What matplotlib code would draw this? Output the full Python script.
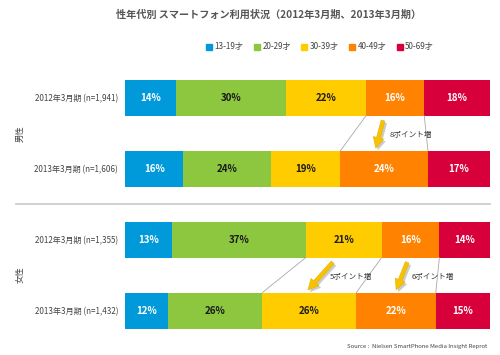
import matplotlib
matplotlib.use("Agg")
import matplotlib.pyplot as plt
import matplotlib.patheffects as pe
import numpy as np

plt.rcParams['font.family'] = ['Noto Sans CJK JP', 'DejaVu Sans']

# data
age_groups = ["13-19才", "20-29才", "30-39才", "40-49才", "50-69才"]
row_labels = ["2012年3月期 (n=1,941)", "2013年3月期 (n=1,606)",
              "2012年3月期 (n=1,355)", "2013年3月期 (n=1,432)"]
male_2012 = [14, 30, 22, 16, 18]
male_2013 = [16, 24, 19, 24, 17]
female_2012 = [13, 37, 21, 16, 14]
female_2013 = [12, 26, 26, 22, 15]
rows = [male_2012, male_2013, female_2012, female_2013]
genders = ["男性", "女性"]

colors = ["#0099DA", "#8DC63F", "#FFCC00", "#FF8300", "#D7003A"]
text_colors = ["white", "#1a1a1a", "#1a1a1a", "white", "white"]

fig = plt.figure(figsize=(5, 3.55), dpi=100)
ax = fig.add_axes([0.25, 0.0254, 0.73, 0.7986])

bar_h = 0.507
lefts_all = []
for i, vals in enumerate(rows):
    vals = np.array(vals, dtype=float)
    widths = vals / vals.sum() * 100
    lefts = np.concatenate([[0], np.cumsum(widths)[:-1]])
    lefts_all.append(np.concatenate([lefts, [100]]))
    for j in range(len(vals)):
        ax.barh(i, widths[j], left=lefts[j], height=bar_h, color=colors[j],
                edgecolor="none")
        ax.text(lefts[j] + widths[j] / 2, i, f"{int(vals[j])}%", ha="center",
                va="center", fontsize=7, fontweight="bold", color=text_colors[j])

# connector lines between years
for (r, bounds) in [(0, [3, 4]), (2, [2, 3, 4])]:
    for b in bounds:
        ax.plot([lefts_all[r][b], lefts_all[r + 1][b]],
                [r + bar_h / 2, r + 1 - bar_h / 2],
                color="#A8A8A8", lw=0.6, zorder=1)

# arrows with notes
notes = [("8ポイント増", (70.7, 0.32), (68.7, 0.71), (72.5, 0.52)),
         ("5ポイント増", (56.9, 2.32), (50.1, 2.71), (56.0, 2.52)),
         ("6ポイント増", (77.3, 2.32), (74.3, 2.71), (78.5, 2.52))]
for txt, start, end, tpos in notes:
    ax.annotate("", xy=end, xytext=start,
                arrowprops=dict(arrowstyle="simple,head_length=0.55,head_width=0.55,tail_width=0.2",
                                mutation_scale=14, shrinkA=0, shrinkB=0,
                                fc="#F7C300", ec="#E8B000", lw=0.4,
                                path_effects=[pe.withSimplePatchShadow(offset=(1.5, -1.5),
                                                                       shadow_rgbFace="#999999",
                                                                       alpha=0.5)]))
    ax.text(tpos[0], tpos[1], txt, fontsize=5.5, color="#333333",
            ha="left", va="center")

# separator between male and female
ax.axhline(1.5, xmin=-0.30, xmax=1.0, color="#C8C8C8", lw=1.2, clip_on=False)

ax.set_xlim(0, 100)
ax.set_ylim(3.5, -0.5)
ax.set_yticks(range(len(rows)))
ax.set_yticklabels(row_labels, fontsize=5.8, color="#444444")
ax.tick_params(axis="y", length=0, pad=5)
ax.set_xticks([])
for s in ax.spines.values():
    s.set_visible(False)

for k, g in enumerate(genders):
    ax.text(-0.288, 2 * k + 0.5, g, transform=ax.get_yaxis_transform(), fontsize=6,
            color="#444444", rotation=90, ha="center", va="center")

fig.text(0.538, 0.958, "性年代別 スマートフォン利用状況（2012年3月期、2013年3月期）",
         ha="center", va="center", fontsize=7.3, fontweight="bold", color="#555555")

handles = [plt.Rectangle((0, 0), 1, 1, color=c) for c in colors]
fig.legend(handles, age_groups, loc="center", bbox_to_anchor=(0.64, 0.868),
           ncol=5, frameon=False, fontsize=5.8, handlelength=0.75, handleheight=0.75,
           handletextpad=0.3, columnspacing=1.3, labelcolor="#444444")

fig.text(0.974, 0.025, "Source :  Nielsen SmartPhone Media Insight Reprot",
         ha="right", va="center", fontsize=4.3, color="#444444")

fig.savefig("out.png", dpi=100)
